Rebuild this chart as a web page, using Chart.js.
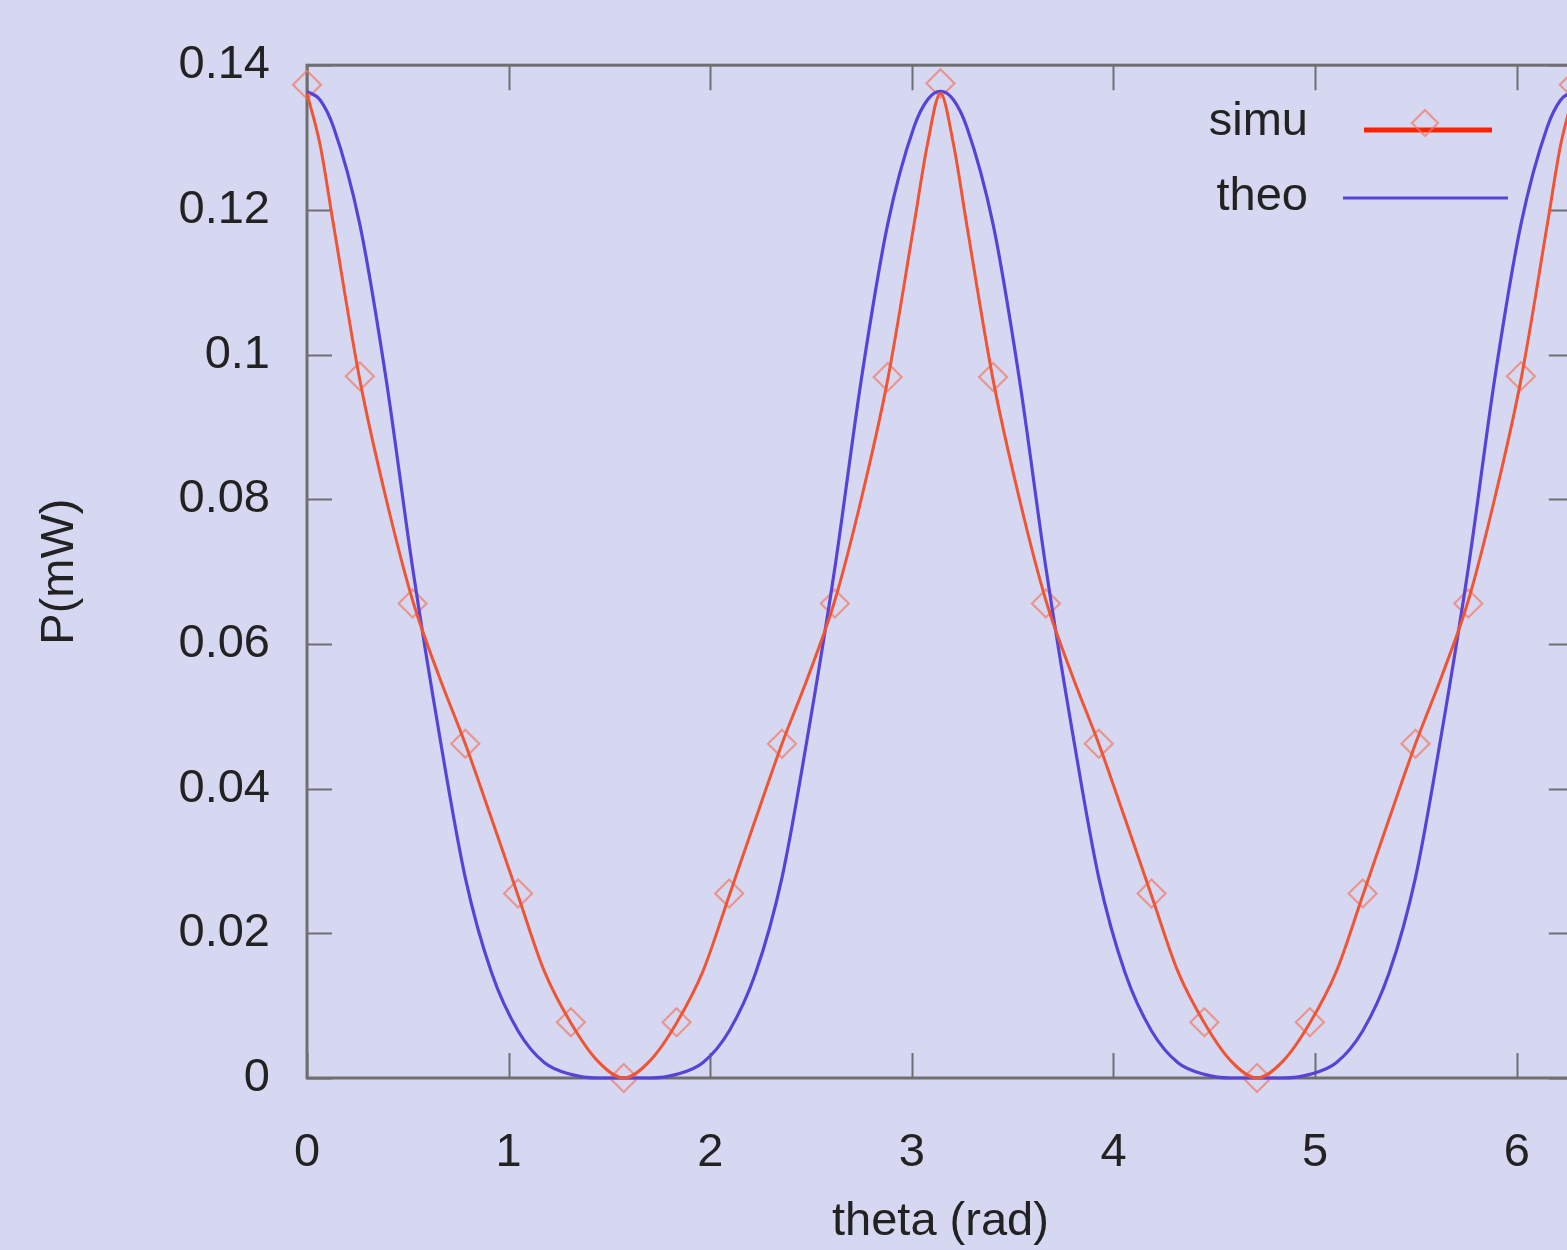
<!DOCTYPE html>
<html>
<head>
<meta charset="utf-8">
<title>P(mW) vs theta</title>
<script src="https://cdn.jsdelivr.net/npm/chart.js@4/dist/chart.umd.min.js"></script>
<style>
    html, body { margin: 0; padding: 0; overflow: hidden; background: #d6d8f2; }
    canvas { display: block; }
</style>
</head>
<body>
<canvas id="grafico" width="1590" height="1250"></canvas>
<script>
// Datos
const thetaCurva = [0, 0.065, 0.131, 0.262, 0.393, 0.524, 0.654, 0.785, 0.916, 1.047, 1.178, 1.309, 1.44,
    1.571, 1.702, 1.833, 1.963, 2.094, 2.225, 2.356, 2.487, 2.618, 2.749, 2.88, 3.011, 3.077,
    3.142, 3.207, 3.272, 3.403, 3.534, 3.665, 3.796, 3.927, 4.058, 4.189, 4.32, 4.451, 4.581,
    4.712, 4.843, 4.974, 5.105, 5.236, 5.367, 5.498, 5.629, 5.76, 5.89, 6.021, 6.152, 6.218, 6.283];

// curva teórica (azul)
const potenciaTeo = [0.1364, 0.1352, 0.1315, 0.118, 0.0965, 0.0705, 0.0479, 0.0277, 0.0145, 0.0065, 0.0021, 0.0005, 0,
    0, 0, 0.0005, 0.0021, 0.0065, 0.0145, 0.0277, 0.0479, 0.0705, 0.0965, 0.118, 0.1315, 0.1352,
    0.1364, 0.1352, 0.1315, 0.118, 0.0965, 0.0705, 0.0479, 0.0277, 0.0145, 0.0065, 0.0021, 0.0005, 0,
    0, 0, 0.0005, 0.0021, 0.0065, 0.0145, 0.0277, 0.0479, 0.0705, 0.0965, 0.118, 0.1315, 0.1352, 0.1364];

// línea de simulación (roja)
const potenciaSimu = [0.1361, 0.129, 0.118, 0.0965, 0.08, 0.066, 0.0556, 0.0462, 0.0358, 0.0252, 0.0147, 0.0076, 0.0024,
    0, 0.0024, 0.0076, 0.0147, 0.0252, 0.0358, 0.0462, 0.0556, 0.066, 0.08, 0.0965, 0.118, 0.129,
    0.1361, 0.129, 0.118, 0.0965, 0.08, 0.066, 0.0556, 0.0462, 0.0358, 0.0252, 0.0147, 0.0076, 0.0024,
    0, 0.0024, 0.0076, 0.0147, 0.0252, 0.0358, 0.0462, 0.0556, 0.066, 0.08, 0.0965, 0.118, 0.129, 0.1361];

// puntos de simulación (rombos)
const thetaPuntos = [0, 0.262, 0.524, 0.785, 1.047, 1.309, 1.571, 1.833, 2.094, 2.356, 2.618, 2.88,
    3.142, 3.403, 3.665, 3.927, 4.189, 4.451, 4.712, 4.974, 5.236, 5.498, 5.76, 6.021, 6.283];
const potenciaPuntos = [0.1373, 0.097, 0.0656, 0.0462, 0.0255, 0.0077, 0, 0.0077, 0.0255, 0.0462, 0.0656, 0.0969,
    0.1375, 0.0969, 0.0656, 0.0462, 0.0255, 0.0077, 0, 0.0077, 0.0255, 0.0462, 0.0656, 0.097, 0.1373];

const ticksY = [0, 0.02, 0.04, 0.06, 0.08, 0.1, 0.12, 0.14];

const colorTexto = "#222222";
const colorBorde = "#6f6f6f";
const fuente = { family: "'Liberation Sans', Arial, sans-serif", size: 47 };

Chart.defaults.font.family = fuente.family;

function pares(xs, ys) {
    return xs.map((x, i) => ({ x: x, y: ys[i] }));
}

// Marco y ticks hacia adentro (estilo gnuplot)
const marcoPlugin = {
    id: "marco",
    beforeDatasetsDraw(chart) {
        const { ctx, chartArea: a, scales } = chart;
        const largo = 25;
        ctx.save();
        ctx.strokeStyle = colorBorde;
        ctx.lineWidth = 2;
        scales.x.ticks.forEach((t) => {
            const px = Math.round(scales.x.getPixelForValue(t.value)) + 0.5;
            ctx.beginPath();
            ctx.moveTo(px, a.bottom);
            ctx.lineTo(px, a.bottom - largo);
            ctx.moveTo(px, a.top);
            ctx.lineTo(px, a.top + largo);
            ctx.stroke();
        });
        scales.y.ticks.forEach((t) => {
            const py = Math.round(scales.y.getPixelForValue(t.value)) + 0.5;
            ctx.beginPath();
            ctx.moveTo(a.left, py);
            ctx.lineTo(a.left + largo, py);
            ctx.moveTo(a.right, py);
            ctx.lineTo(a.right - largo, py);
            ctx.stroke();
        });
        ctx.lineWidth = 3;
        ctx.strokeRect(a.left, a.top, a.right - a.left, a.bottom - a.top);
        ctx.restore();
    },
};

// Leyenda a la derecha: texto y luego la muestra
const leyendaPlugin = {
    id: "leyenda",
    afterDraw(chart) {
        const { ctx } = chart;
        const ds = chart.data.datasets;
        ctx.save();
        ctx.font = fuente.size + "px " + fuente.family;
        ctx.fillStyle = colorTexto;
        ctx.textAlign = "right";
        ctx.textBaseline = "middle";
        ctx.fillText("simu", 1308, 122);
        ctx.fillText("theo", 1308, 197);

        ctx.strokeStyle = "#ff2200";
        ctx.lineWidth = 5;
        ctx.beginPath();
        ctx.moveTo(1364, 130);
        ctx.lineTo(1492, 130);
        ctx.stroke();
        ctx.strokeStyle = ds[2].borderColor;
        ctx.lineWidth = ds[2].borderWidth;
        ctx.beginPath();
        ctx.moveTo(1425 - 13, 123);
        ctx.lineTo(1425, 110);
        ctx.lineTo(1425 + 13, 123);
        ctx.lineTo(1425, 136);
        ctx.closePath();
        ctx.stroke();

        ctx.strokeStyle = ds[1].borderColor;
        ctx.lineWidth = 3;
        ctx.beginPath();
        ctx.moveTo(1343, 198);
        ctx.lineTo(1508, 198);
        ctx.stroke();
        ctx.restore();
    },
};

const ctx = document.getElementById("grafico").getContext("2d");
new Chart(ctx, {
    type: "line",
    data: {
        datasets: [
            {
                label: "simu",
                data: pares(thetaCurva, potenciaSimu),
                borderColor: "#ef5534",
                borderWidth: 3,
                pointRadius: 0,
                cubicInterpolationMode: "monotone",
                fill: false,
                clip: false,
                order: 1,
            },
            {
                label: "theo",
                data: pares(thetaCurva, potenciaTeo),
                borderColor: "#5744d6",
                borderWidth: 3.2,
                pointRadius: 0,
                cubicInterpolationMode: "monotone",
                fill: false,
                clip: false,
                order: 2,
            },
            {
                label: "simu puntos",
                data: pares(thetaPuntos, potenciaPuntos),
                showLine: false,
                pointStyle: "rectRot",
                pointRadius: 14,
                borderColor: "rgba(242, 120, 100, 0.7)",
                backgroundColor: "rgba(0, 0, 0, 0)",
                borderWidth: 2.2,
                clip: false,
                order: 3,
            },
        ],
    },
    options: {
        responsive: false,
        animation: false,
        layout: { padding: { top: 60, right: 13, left: 0, bottom: 0 } },
        plugins: {
            legend: { display: false },
            tooltip: { enabled: false },
        },
        scales: {
            x: {
                type: "linear",
                min: 0,
                max: 6.2832,
                afterFit: (s) => { s.height = 172; },
                grid: { display: false, drawTicks: false },
                border: { display: false },
                ticks: {
                    stepSize: 1,
                    includeBounds: false,
                    padding: 47,
                    color: colorTexto,
                    font: { size: fuente.size },
                    maxRotation: 0,
                },
                title: {
                    display: true,
                    text: "theta (rad)",
                    color: colorTexto,
                    font: { size: fuente.size },
                    padding: { top: 0, bottom: 0 },
                },
            },
            y: {
                type: "linear",
                min: 0,
                max: 0.14,
                afterFit: (s) => { s.width = 307; },
                afterBuildTicks: (s) => { s.ticks = ticksY.map((v) => ({ value: v })); },
                grid: { display: false, drawTicks: false },
                border: { display: false },
                ticks: {
                    padding: 37,
                    color: colorTexto,
                    font: { size: fuente.size },
                    callback: (v) => String(+Number(v).toFixed(2)),
                },
                title: {
                    display: true,
                    text: "P(mW)",
                    color: colorTexto,
                    font: { size: fuente.size },
                    padding: { top: 32, bottom: 0 },
                },
            },
        },
    },
    plugins: [marcoPlugin, leyendaPlugin],
});
</script>
</body>
</html>
